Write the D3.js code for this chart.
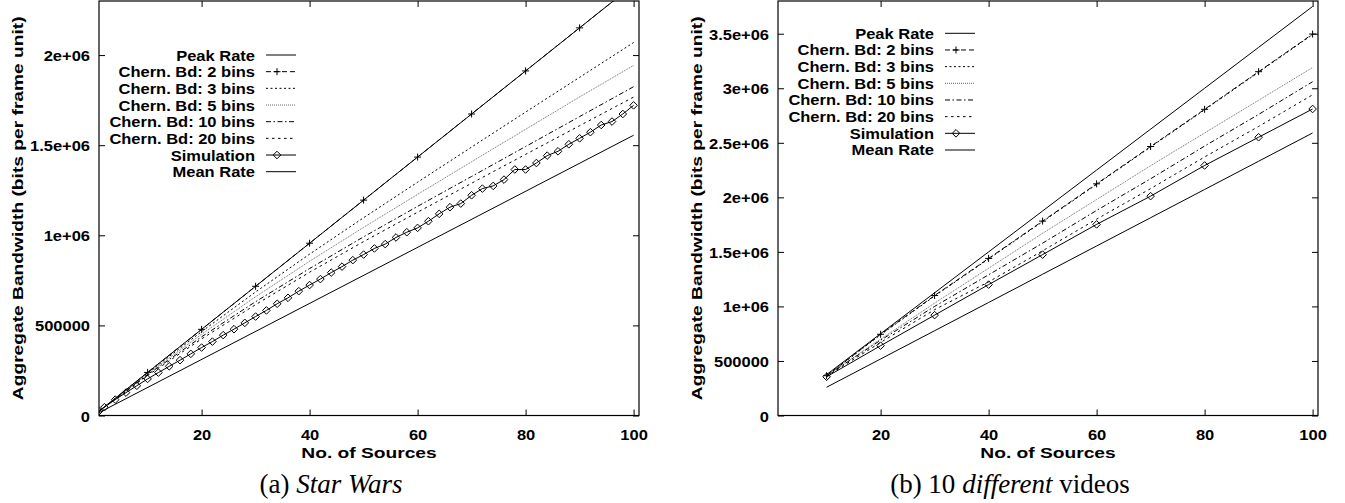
<!DOCTYPE html>
<html>
<head>
<meta charset="utf-8">
<script src="https://cdn.jsdelivr.net/npm/d3@7"></script>
<style>
body { margin: 0; background: #fff; }
text { font-family: "Liberation Sans", Arial, Helvetica, sans-serif; font-weight: bold; font-size: 15px; fill: #000; }
text.title { font-size: 15px; }
text.cap { font-family: "Liberation Serif", "Times New Roman", serif; font-weight: normal; font-size: 27px; }
</style>
</head>
<body>
<svg id="chart" width="1345" height="503"></svg>
<script>
// ---- data ----
var seriesNames = ["Peak Rate", "Chern. Bd: 2 bins", "Chern. Bd: 3 bins", "Chern. Bd: 5 bins",
                   "Chern. Bd: 10 bins", "Chern. Bd: 20 bins", "Simulation", "Mean Rate"];
var xTicks = [20, 40, 60, 80, 100];
var yTicksA = [0, 500000, 1000000, 1500000, 2000000];
var yTicksB = [0, 500000, 1000000, 1500000, 2000000, 2500000, 3000000, 3500000];

// (a) Star Wars, values in 1e6 bits
var swLineN = [1, 100];
var swPeak  = [0.0239, 2.39];
var swMean  = [0.01555, 1.555];
var swBoundN  = [1, 2, 5, 10, 20, 30, 40, 50, 60, 70, 80, 90, 100];
var swChern2  = [0.0239, 0.0478, 0.1195, 0.239, 0.478, 0.717, 0.956, 1.195, 1.434, 1.673, 1.912, 2.151, 2.39];
var swChern3  = [0.024, 0.0475, 0.118, 0.2355, 0.4655, 0.6855, 0.8955, 1.0975, 1.2945, 1.4895, 1.6835, 1.8765, 2.0695];
var swChern5  = [0.024, 0.047, 0.116, 0.231, 0.451, 0.659, 0.856, 1.044, 1.227, 1.408, 1.588, 1.7675, 1.9425];
var swChern10 = [0.024, 0.0465, 0.114, 0.2265, 0.4365, 0.6315, 0.8155, 0.9915, 1.1605, 1.3265, 1.4925, 1.6585, 1.8245];
var swChern20 = [0.024, 0.046, 0.112, 0.222, 0.425, 0.615, 0.795, 0.965, 1.128, 1.289, 1.449, 1.608, 1.767];
var swSimN = [1, 2, 4, 6, 8, 10, 12, 14, 16, 18, 20, 22, 24, 26, 28, 30, 32, 34, 36, 38, 40, 42, 44, 46, 48, 50,
              52, 54, 56, 58, 60, 62, 64, 66, 68, 70, 72, 74, 76, 78, 80, 82, 84, 86, 88, 90, 92, 94, 96, 98, 100];
var swSim  = [0.024, 0.046, 0.088, 0.127, 0.165, 0.203, 0.238, 0.273, 0.307, 0.342, 0.377, 0.410, 0.446, 0.479,
              0.514, 0.549, 0.583, 0.620, 0.653, 0.690, 0.724, 0.757, 0.793, 0.826, 0.862, 0.893,
              0.927, 0.951, 0.988, 1.017, 1.041, 1.078, 1.119, 1.156, 1.176, 1.222, 1.259, 1.274, 1.309,
              1.365, 1.365, 1.401, 1.442, 1.466, 1.505, 1.538, 1.572, 1.612, 1.631, 1.673, 1.721];

// (b) 10 different videos, values in 1e6 bits
var vidN = [10, 20, 30, 40, 50, 60, 70, 80, 90, 100];
var vidPeak   = [0.375, 0.75, 1.125, 1.5, 1.875, 2.25, 2.625, 3.0, 3.375, 3.75];
var vidChern2 = [0.365, 0.745, 1.10, 1.44, 1.782, 2.124, 2.466, 2.807, 3.152, 3.497];
var vidChern3 = [0.363, 0.740, 1.095, 1.435, 1.777, 2.119, 2.461, 2.802, 3.147, 3.492];
var vidChern5 = [0.365, 0.70, 1.03, 1.35, 1.67, 1.98, 2.29, 2.59, 2.89, 3.19];
var vidChern10 = [0.365, 0.69, 1.00, 1.29, 1.58, 1.88, 2.17, 2.47, 2.76, 3.06];
var vidChern20 = [0.36, 0.67, 0.97, 1.225, 1.51, 1.80, 2.08, 2.37, 2.65, 2.94];
var vidSim  = [0.355, 0.64, 0.92, 1.20, 1.475, 1.752, 2.011, 2.292, 2.551, 2.81];
var vidMean = [0.259, 0.518, 0.777, 1.036, 1.295, 1.554, 1.813, 2.072, 2.331, 2.59];

// ---- line styles, same order as seriesNames ----
var styles = [
    {dash: null,            color: "#000", mark: null},
    {dash: "5,3",           color: "#000", mark: "plus"},
    {dash: "2,2.5",         color: "#000", mark: null},
    {dash: "1,1",           color: "#666", mark: null},
    {dash: "5,2.5,1.5,2.5", color: "#000", mark: null},
    {dash: "2.5,3.5",       color: "#000", mark: null},
    {dash: null,            color: "#000", mark: "diamond"},
    {dash: null,            color: "#000", mark: null}
];

function zip(ns, vs) {
    return ns.map(function (n, i) { return {n: n, v: vs[i] * 1e6}; });
}

var svg = d3.select("#chart");

function yFmt(v) {
    if (v === 0) return "0";
    if (v < 1e6) return String(v);
    return (v / 1e6) + "e+06";
}

function diamondPath(x, y) {
    var r = 3.8;
    return "M" + x + "," + (y - r) + "L" + (x + r) + "," + y + "L" + x + "," + (y + r) + "L" + (x - r) + "," + y + "Z";
}
function plusPath(x, y) {
    var r = 3.5;
    return "M" + (x - r) + "," + y + "H" + (x + r) + "M" + x + "," + (y - r) + "V" + (y + r);
}

function drawMarks(g, pts, kind, x, y) {
    g.selectAll("path.m").data(pts).enter().append("path")
        .attr("class", "m")
        .attr("d", function (d) {
            return kind === "plus" ? plusPath(x(d.n), y(d.v)) : diamondPath(x(d.n), y(d.v));
        })
        .attr("fill", "none").attr("stroke", "#000").attr("stroke-width", 1);
}

function drawPanel(cfg) {
    var x = d3.scaleLinear().domain([1, 101]).range([cfg.left, cfg.right]);
    var y = d3.scaleLinear().domain([0, cfg.ymax]).range([cfg.bottom, cfg.top]);
    var g = svg.append("g");

    var clipId = "clip" + cfg.id;
    svg.append("clipPath").attr("id", clipId).append("rect")
        .attr("x", cfg.left).attr("y", cfg.top)
        .attr("width", cfg.right - cfg.left).attr("height", cfg.bottom - cfg.top);

    // axes with inward ticks, mirrored on top / right
    var ax = g.append("g").attr("transform", "translate(0," + cfg.bottom + ")")
        .call(d3.axisBottom(x).tickValues(xTicks).tickSizeInner(-6).tickSizeOuter(0).tickPadding(13.5));
    ax.select(".domain").remove();
    ax.selectAll("text").attr("transform", "scale(1.1,1)");

    var axTop = g.append("g").attr("transform", "translate(0," + cfg.top + ")")
        .call(d3.axisTop(x).tickValues(xTicks).tickSizeInner(-6).tickSizeOuter(0).tickFormat(""));
    axTop.select(".domain").remove();

    var ay = g.append("g").attr("transform", "translate(" + cfg.left + ",0)")
        .call(d3.axisLeft(y).tickValues(cfg.yTicks).tickSizeInner(-6).tickSizeOuter(0).tickPadding(9).tickFormat(yFmt));
    ay.select(".domain").remove();
    ay.selectAll("text").attr("x", -9 / 1.1).attr("dy", "0.37em").attr("transform", "scale(1.1,1)");

    var ayR = g.append("g").attr("transform", "translate(" + cfg.right + ",0)")
        .call(d3.axisRight(y).tickValues(cfg.yTicks).tickSizeInner(-6).tickSizeOuter(0).tickFormat(""));
    ayR.select(".domain").remove();

    g.append("rect")
        .attr("x", cfg.left).attr("y", cfg.top)
        .attr("width", cfg.right - cfg.left).attr("height", cfg.bottom - cfg.top)
        .attr("fill", "none").attr("stroke", "#000").attr("stroke-width", 1.2);

    // series
    var line = d3.line().x(function (d) { return x(d.n); }).y(function (d) { return y(d.v); });
    var plot = g.append("g").attr("clip-path", "url(#" + clipId + ")");
    cfg.series.forEach(function (pts, i) {
        var st = styles[i];
        plot.append("path").datum(pts)
            .attr("d", line)
            .attr("fill", "none")
            .attr("stroke", st.color)
            .attr("stroke-width", 1)
            .attr("stroke-dasharray", st.dash);
        if (st.mark) {
            var mpts = pts.filter(function (d) { return st.mark === "diamond" || d.n % 10 === 0; });
            drawMarks(plot.append("g"), mpts, st.mark, x, y);
        }
    });

    // legend
    var lg = g.append("g");
    seriesNames.forEach(function (name, i) {
        var st = styles[i];
        var ly = cfg.legY + i * 16.67;
        lg.append("text")
            .attr("transform", "translate(" + cfg.legTextX + "," + (ly + 5.5) + ") scale(1.1,1)")
            .attr("text-anchor", "end")
            .text(name);
        lg.append("line")
            .attr("x1", cfg.legTextX + 11).attr("x2", cfg.legTextX + 41)
            .attr("y1", ly).attr("y2", ly)
            .attr("stroke", st.color).attr("stroke-width", 1)
            .attr("stroke-dasharray", st.dash);
        if (st.mark) {
            var xm = cfg.legTextX + 22;
            lg.append("path")
                .attr("d", st.mark === "plus" ? plusPath(xm, ly) : diamondPath(xm, ly))
                .attr("fill", "none").attr("stroke", "#000");
        }
    });

    // axis titles
    g.append("text").attr("class", "title")
        .attr("transform", "translate(" + ((cfg.left + cfg.right) / 2) + ",457.5) scale(1.28,1)")
        .attr("text-anchor", "middle")
        .text("No. of Sources");
    g.append("text").attr("class", "title")
        .attr("transform", "translate(" + cfg.yLabelX + "," + ((cfg.top + cfg.bottom) / 2) + ") rotate(-90) scale(1.28,1)")
        .attr("text-anchor", "middle")
        .attr("dy", "0.35em")
        .text("Aggregate Bandwidth (bits per frame unit)");

    // caption
    var cap = svg.append("text").attr("class", "cap")
        .attr("x", cfg.capX).attr("y", 493).attr("text-anchor", "middle");
    cap.append("tspan").text(cfg.capPre);
    cap.append("tspan").attr("font-style", "italic").text(cfg.capIt);
    if (cfg.capPost) cap.append("tspan").text(cfg.capPost);
}

drawPanel({
    id: "a", left: 99, right: 639, top: 1, bottom: 415.5, ymax: 2.3e6,
    yTicks: yTicksA, legTextX: 255, legY: 55, yLabelX: 18, capX: 331,
    capPre: "(a) ", capIt: "Star Wars", capPost: "",
    series: [zip(swLineN, swPeak), zip(swBoundN, swChern2), zip(swBoundN, swChern3),
             zip(swBoundN, swChern5), zip(swBoundN, swChern10), zip(swBoundN, swChern20),
             zip(swSimN, swSim), zip(swLineN, swMean)]
});

drawPanel({
    id: "b", left: 778, right: 1318, top: 1, bottom: 415.5, ymax: 3.8e6,
    yTicks: yTicksB, legTextX: 934, legY: 33.3, yLabelX: 697, capX: 1010,
    capPre: "(b) 10 ", capIt: "different", capPost: " videos",
    series: [zip(vidN, vidPeak), zip(vidN, vidChern2), zip(vidN, vidChern3),
             zip(vidN, vidChern5), zip(vidN, vidChern10), zip(vidN, vidChern20),
             zip(vidN, vidSim), zip(vidN, vidMean)]
});
</script>
</body>
</html>
